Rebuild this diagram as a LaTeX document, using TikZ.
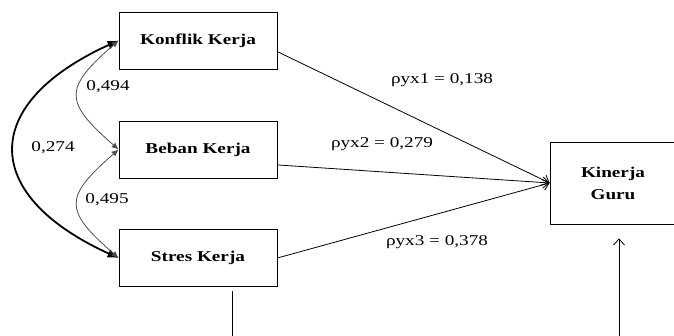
\documentclass[tikz,border=0pt]{standalone}
\usepackage{fontspec}
\setmainfont{Liberation Serif}[FakeStretch=1.28]
\usetikzlibrary{arrows.meta}
\begin{document}
\begin{tikzpicture}[x=1pt,y=-1pt,line width=0.8pt,
    var/.style={draw,minimum width=158pt,minimum height=57pt,font=\fontsize{15}{22}\selectfont\bfseries,align=center},
    coef/.style={font=\fontsize{15}{18}\selectfont},
    path/.style={-{Straight Barb[length=6pt,width=11pt]}}]
    \useasboundingbox (0,0) rectangle (674,336);
    \node[var] (konflik) at (198,40.5) {Konflik Kerja};
    \node[var] (beban) at (198,149.5) {Beban Kerja};
    \node[var] (stres) at (198,258) {Stres Kerja};
    \node[var,minimum width=126pt,minimum height=82pt] (kinerja) at (613,183) {Kinerja\\Guru};
    \draw[path] (konflik.-8) -- (kinerja.west);
    \draw[path] (beban.-11) -- (kinerja.west);
    \draw[path] (stres.east) -- (kinerja.west);
    \node[coef] (p1) at (442,80) {ρyx1 = 0,138};
    \node[coef] (p2) at (382,144) {ρyx2 = 0,279};
    \node[coef] (p3) at (437,242) {ρyx3 = 0,378};
    \draw[{Latex[length=11pt,width=9pt]}-{Latex[length=11pt,width=9pt]},line width=1.8pt] (konflik.west) .. controls +(-139,63) and +(-139,-63) .. (stres.west);
    \draw[{Latex[length=7pt,width=6pt]}-{Latex[length=7pt,width=6pt]},gray!60!black] (konflik.west) .. controls +(-55,48) and +(-55,-48) .. (beban.west);
    \draw[{Latex[length=7pt,width=6pt]}-{Latex[length=7pt,width=6pt]},gray!60!black] (beban.west) .. controls +(-55,48) and +(-55,-48) .. (stres.west);
    \node[coef] (r1) at (108,87) {0,494};
    \node[coef] (r2) at (53,148) {0,274};
    \node[coef] (r3) at (107,200) {0,495};
    \coordinate (s1) at (232,336);
    \coordinate (k1) at (619,336);
    \draw[shorten <=4pt] (stres.south -| s1) -- (s1);
    \draw[path,shorten >=14pt] (k1) -- (kinerja.south -| k1);
\end{tikzpicture}
\end{document}
